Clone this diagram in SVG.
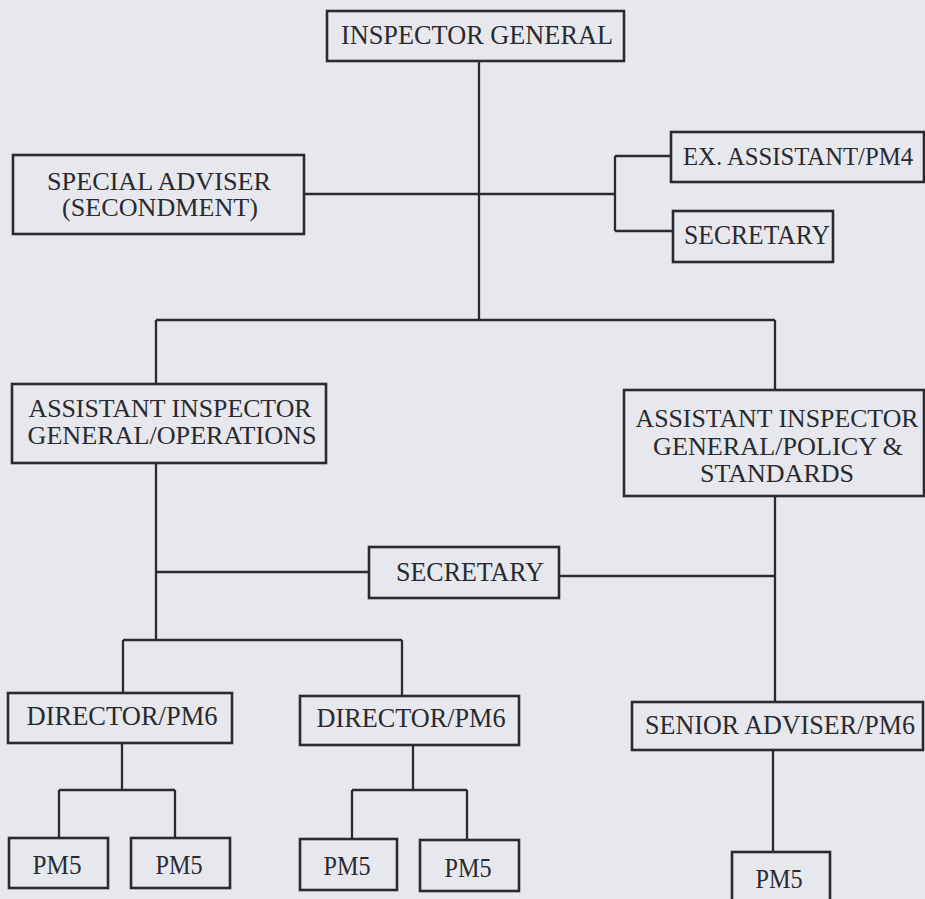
<svg xmlns="http://www.w3.org/2000/svg" width="925" height="899" viewBox="0 0 925 899">
<style>
.bg{fill:#e7e7ee}
.box{fill:none;stroke:#2b2b2f;stroke-width:2.6}
.ln{fill:none;stroke:#2b2b2f;stroke-width:2.3}
text{font-family:"Liberation Serif","Times New Roman",serif;font-size:27px;fill:#2a2a2e;text-anchor:middle}
.two{font-size:25px}
</style>
<rect class="bg" x="0" y="0" width="925" height="899"/>
<g id="connectors">
<path class="ln" d="M479 61 V320"/>
<path class="ln" d="M304 194 H615"/>
<path class="ln" d="M615 156 V231 M615 156 H671 M615 231 H673"/>
<path class="ln" d="M156 320 H775 M156 320 V384 M775 320 V390"/>
<path class="ln" d="M156 463 V640 M156 572 H369 M559 576 H775 M775 496 V702"/>
<path class="ln" d="M123 640 H402 M123 640 V693 M402 640 V696"/>
<path class="ln" d="M122 743 V790 M59 790 H175 M59 790 V838 M175 790 V838"/>
<path class="ln" d="M413 745 V790 M352 790 H467 M352 790 V839 M467 790 V840"/>
<path class="ln" d="M773 750 V852"/>
</g>
<g id="inspector-general"><rect class="box" x="327" y="11" width="297" height="50"/><text x="477" y="44" style="font-size:28px" textLength="272" lengthAdjust="spacingAndGlyphs">INSPECTOR GENERAL</text></g>
<g id="special-adviser"><rect class="box" x="13" y="155" width="291" height="79"/><text class="two" x="159" y="190" textLength="224" lengthAdjust="spacingAndGlyphs">SPECIAL ADVISER</text><text class="two" x="160" y="216" textLength="196" lengthAdjust="spacingAndGlyphs">(SECONDMENT)</text></g>
<g id="ex-assistant"><rect class="box" x="671" y="132" width="253" height="50"/><text class="two" x="798" y="165" textLength="230" lengthAdjust="spacingAndGlyphs">EX. ASSISTANT/PM4</text></g>
<g id="secretary-top"><rect class="box" x="673" y="211" width="160" height="51"/><text x="757" y="244" textLength="146" lengthAdjust="spacingAndGlyphs">SECRETARY</text></g>
<g id="aig-operations"><rect class="box" x="12" y="384" width="314" height="79"/><text class="two" x="170" y="417" textLength="283" lengthAdjust="spacingAndGlyphs">ASSISTANT INSPECTOR</text><text class="two" x="172" y="444" textLength="289" lengthAdjust="spacingAndGlyphs">GENERAL/OPERATIONS</text></g>
<g id="aig-policy"><rect class="box" x="624" y="390" width="300" height="106"/><text class="two" x="777" y="427" textLength="283" lengthAdjust="spacingAndGlyphs">ASSISTANT INSPECTOR</text><text class="two" x="778" y="455" textLength="250" lengthAdjust="spacingAndGlyphs">GENERAL/POLICY &amp;</text><text class="two" x="777" y="482" textLength="154" lengthAdjust="spacingAndGlyphs">STANDARDS</text></g>
<g id="secretary-mid"><rect class="box" x="369" y="547" width="190" height="51"/><text x="470" y="581" textLength="148" lengthAdjust="spacingAndGlyphs">SECRETARY</text></g>
<g id="director-1"><rect class="box" x="8" y="693" width="224" height="50"/><text x="122" y="725" textLength="191" lengthAdjust="spacingAndGlyphs">DIRECTOR/PM6</text></g>
<g id="director-2"><rect class="box" x="300" y="696" width="219" height="49"/><text x="411" y="727" textLength="189" lengthAdjust="spacingAndGlyphs">DIRECTOR/PM6</text></g>
<g id="senior-adviser"><rect class="box" x="632" y="702" width="291" height="48"/><text x="780" y="734" textLength="270" lengthAdjust="spacingAndGlyphs">SENIOR ADVISER/PM6</text></g>
<g id="pm5-1"><rect class="box" x="9" y="838" width="99" height="50"/><text x="57" y="874" textLength="49" lengthAdjust="spacingAndGlyphs">PM5</text></g>
<g id="pm5-2"><rect class="box" x="131" y="838" width="99" height="50"/><text x="179" y="874" textLength="47" lengthAdjust="spacingAndGlyphs">PM5</text></g>
<g id="pm5-3"><rect class="box" x="300" y="839" width="97" height="51"/><text x="347" y="875" textLength="47" lengthAdjust="spacingAndGlyphs">PM5</text></g>
<g id="pm5-4"><rect class="box" x="420" y="840" width="99" height="51"/><text x="468" y="877" textLength="47" lengthAdjust="spacingAndGlyphs">PM5</text></g>
<g id="pm5-5"><rect class="box" x="732" y="852" width="98" height="60"/><text x="779" y="888" textLength="47" lengthAdjust="spacingAndGlyphs">PM5</text></g>
</svg>
